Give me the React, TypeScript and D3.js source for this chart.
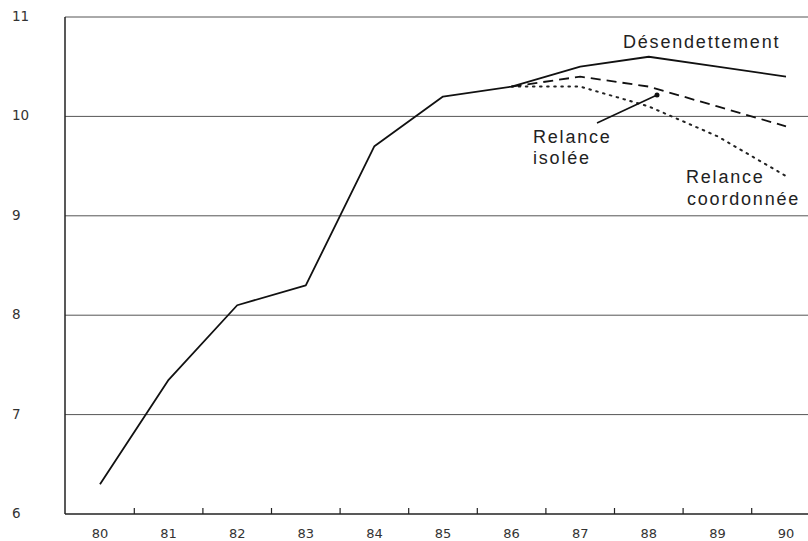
import React from "react";
import * as d3 from "d3";

const years = [80, 81, 82, 83, 84, 85, 86, 87, 88, 89, 90];
const desendettement = [6.3, 7.35, 8.1, 8.3, 9.7, 10.2, 10.3, 10.5, 10.6, 10.5, 10.4];
const relanceYears = [86, 87, 88, 89, 90];
const relanceIsolee = [10.3, 10.4, 10.3, 10.1, 9.9];
const relanceCoordonnee = [10.3, 10.3, 10.1, 9.8, 9.4];
const yTicks = [6, 7, 8, 9, 10, 11];
const tickBoundaries = [80.5, 81.5, 82.5, 83.5, 84.5, 85.5, 86.5, 87.5, 88.5, 89.5];

const W = 808;
const H = 541;
const left = 65;
const right = 808;
const top = 17;
const bottom = 514;

export default function App() {
  const x = d3.scaleLinear().domain([80, 90]).range([100, 786]);
  const y = d3.scaleLinear().domain([6, 11]).range([bottom, top]);
  const line = d3
    .line<[number, number]>()
    .x((d) => x(d[0]))
    .y((d) => y(d[1]));

  const mainPts: [number, number][] = years.map((yr, i) => [yr, desendettement[i]]);
  const isoPts: [number, number][] = relanceYears.map((yr, i) => [yr, relanceIsolee[i]]);
  const coordPts: [number, number][] = relanceYears.map((yr, i) => [yr, relanceCoordonnee[i]]);

  const tickFont = "'DejaVu Sans', 'Liberation Sans', sans-serif";
  const labelFont = "'Liberation Sans', Arial, Helvetica, sans-serif";

  return (
    <svg
      width={W}
      height={H}
      style={{ position: "absolute", left: 0, top: 0, background: "#fff" }}
    >
      {yTicks.slice(1).map((t) => (
        <line
          key={"g" + t}
          x1={left}
          x2={right}
          y1={y(t)}
          y2={y(t)}
          stroke="#555"
          strokeWidth={1}
        />
      ))}
      <line x1={left} x2={left} y1={top} y2={bottom} stroke="#222" strokeWidth={1.5} />
      <line x1={left} x2={right} y1={bottom} y2={bottom} stroke="#222" strokeWidth={1.5} />
      {tickBoundaries.map((t) => (
        <line key={"t" + t} x1={x(t)} x2={x(t)} y1={bottom} y2={bottom - 6} stroke="#222" strokeWidth={1.2} />
      ))}
      {yTicks.map((t) => (
        <text
          key={"yl" + t}
          x={12}
          y={y(t)}
          dominantBaseline="middle"
          fontFamily={tickFont}
          fontSize={13.5}
          fill="#333"
        >
          {t}
        </text>
      ))}
      {years.map((yr) => (
        <text
          key={"xl" + yr}
          x={x(yr)}
          y={538}
          textAnchor="middle"
          fontFamily={tickFont}
          fontSize={13}
          fill="#333"
        >
          {yr}
        </text>
      ))}
      <path d={line(coordPts) ?? ""} fill="none" stroke="#222" strokeWidth={2} strokeDasharray="1.6 5.5" strokeLinecap="round" />
      <path d={line(isoPts) ?? ""} fill="none" stroke="#111" strokeWidth={1.8} strokeDasharray="10 6" />
      <path d={line(mainPts) ?? ""} fill="none" stroke="#111" strokeWidth={1.8} strokeLinejoin="round" />
      <line x1={597} y1={123} x2={657} y2={95} stroke="#111" strokeWidth={1.6} />
      <circle cx={657} cy={95} r={2.5} fill="#111" />
      <g fontFamily={labelFont} fontSize={18} fill="#222" letterSpacing={1.8}>
        <text x={623} y={48}>Désendettement</text>
        <text x={533} y={143}>Relance</text>
        <text x={533} y={164}>isolée</text>
        <text x={686} y={183}>Relance</text>
        <text x={687} y={205}>coordonnée</text>
      </g>
    </svg>
  );
}
